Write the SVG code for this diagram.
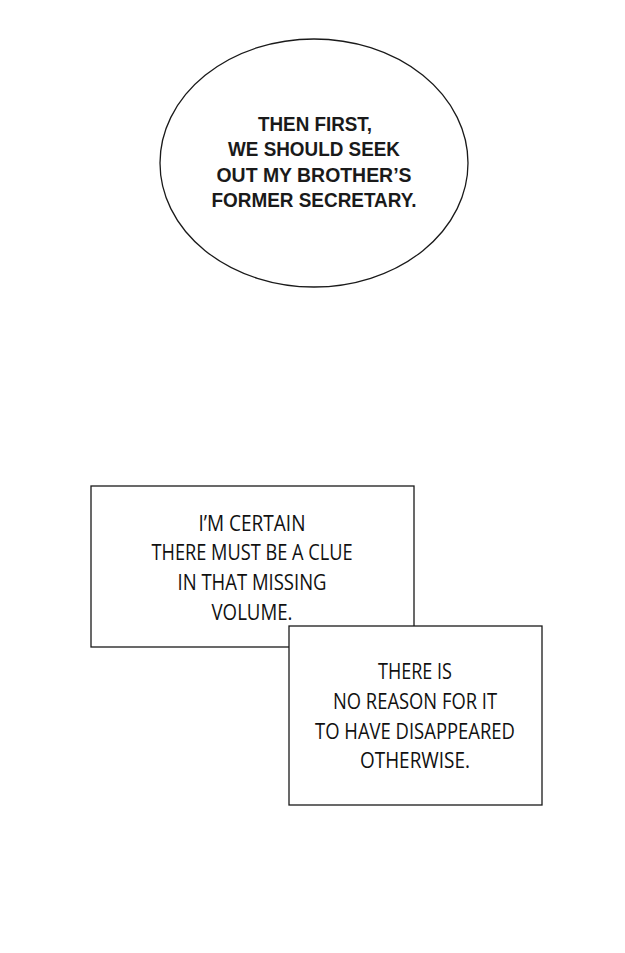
<svg xmlns="http://www.w3.org/2000/svg" width="625" height="953" viewBox="0 0 625 953">
<style>
.shape{fill:#fff;stroke:#1a1a1a;stroke-width:1.3}
.speech{font-family:"Liberation Sans",Arial,sans-serif;font-weight:bold;font-size:21px;fill:#1a1a1a;text-anchor:middle}
.narr{font-family:"Open Sans","Liberation Sans",sans-serif;font-size:21px;fill:#111;text-anchor:middle}
</style>
<rect width="625" height="953" fill="#fff"/>
<g id="bubble">
<ellipse class="shape" cx="314" cy="163" rx="154" ry="124"/>
<text class="speech" x="315" y="131" textLength="114" lengthAdjust="spacingAndGlyphs">THEN FIRST,</text>
<text class="speech" x="314" y="156" textLength="172" lengthAdjust="spacingAndGlyphs">WE SHOULD SEEK</text>
<text class="speech" x="314" y="182" textLength="195" lengthAdjust="spacingAndGlyphs">OUT MY BROTHER’S</text>
<text class="speech" x="314" y="207" textLength="205" lengthAdjust="spacingAndGlyphs">FORMER SECRETARY.</text>
</g>
<g id="box1">
<rect class="shape" x="91" y="486" width="323" height="161"/>
<text class="narr" x="252" y="531" textLength="107" lengthAdjust="spacingAndGlyphs">I’M CERTAIN</text>
<text class="narr" x="252" y="560" textLength="201" lengthAdjust="spacingAndGlyphs">THERE MUST BE A CLUE</text>
<text class="narr" x="252" y="590" textLength="149" lengthAdjust="spacingAndGlyphs">IN THAT MISSING</text>
<text class="narr" x="252" y="620" textLength="81" lengthAdjust="spacingAndGlyphs">VOLUME.</text>
</g>
<g id="box2">
<rect class="shape" x="289" y="626" width="253" height="179"/>
<text class="narr" x="415" y="679" textLength="74" lengthAdjust="spacingAndGlyphs">THERE IS</text>
<text class="narr" x="415" y="709" textLength="164" lengthAdjust="spacingAndGlyphs">NO REASON FOR IT</text>
<text class="narr" x="415" y="739" textLength="200" lengthAdjust="spacingAndGlyphs">TO HAVE DISAPPEARED</text>
<text class="narr" x="415" y="768" textLength="110" lengthAdjust="spacingAndGlyphs">OTHERWISE.</text>
</g>
<g id="connectors"></g>
</svg>
